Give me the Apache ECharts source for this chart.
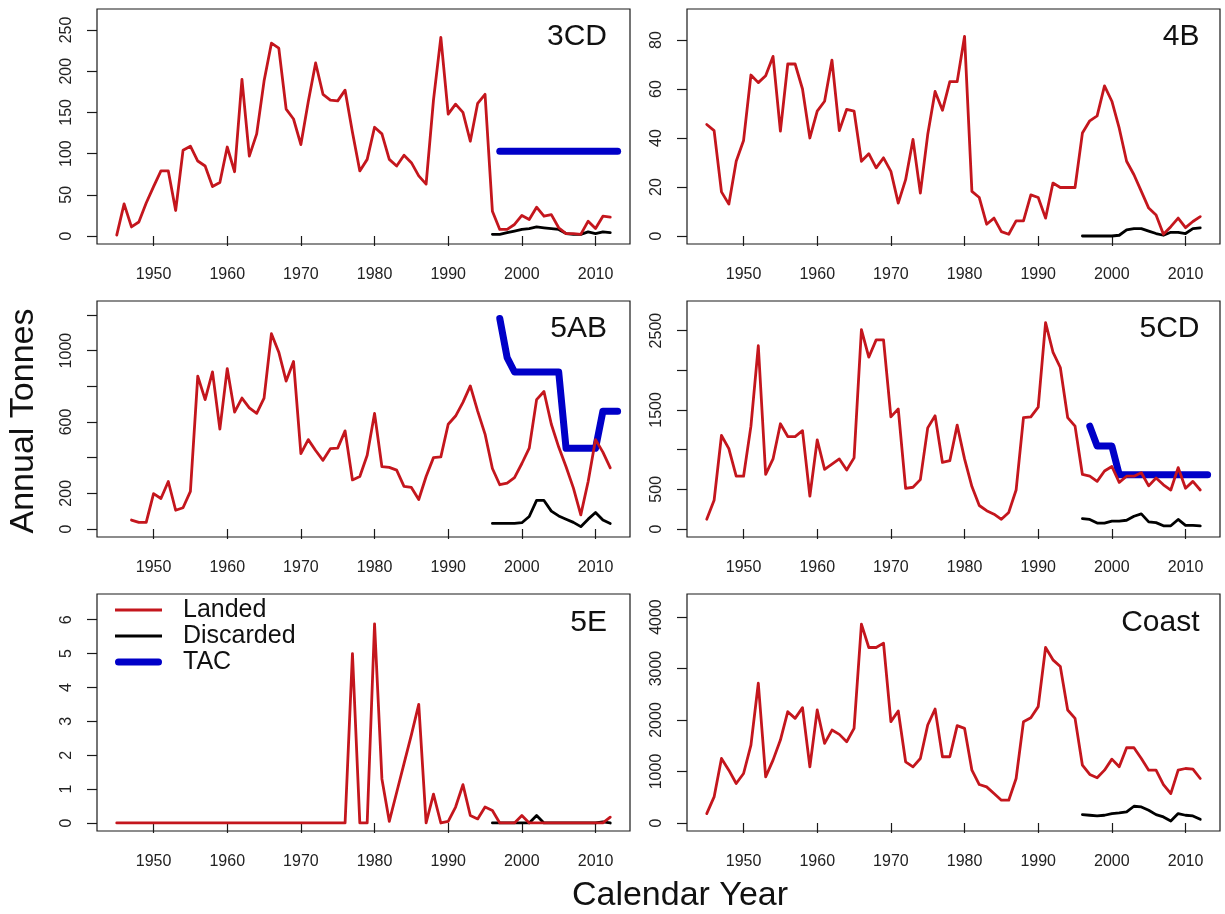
<!DOCTYPE html>
<html><head><meta charset="utf-8">
<script src="https://cdn.jsdelivr.net/npm/echarts@6/dist/echarts.min.js"></script>
<style>html,body{margin:0;padding:0;background:#fff}#c{width:1225px;height:914px}</style>
</head><body><div id="c"></div>
<script>
// ---------- DATA ----------
const yearsLanded = [1945,1946,1947,1948,1949,1950,1951,1952,1953,1954,1955,1956,1957,1958,1959,1960,1961,1962,1963,1964,1965,1966,1967,1968,1969,1970,1971,1972,1973,1974,1975,1976,1977,1978,1979,1980,1981,1982,1983,1984,1985,1986,1987,1988,1989,1990,1991,1992,1993,1994,1995,1996,1997,1998,1999,2000,2001,2002,2003,2004,2005,2006,2007,2008,2009,2010,2011,2012];
const yearsDiscard = [1996,1997,1998,1999,2000,2001,2002,2003,2004,2005,2006,2007,2008,2009,2010,2011,2012];
const yearsTAC = [1997,1998,1999,2000,2001,2002,2003,2004,2005,2006,2007,2008,2009,2010,2011,2012,2013];
const xTickYears = [1950,1960,1970,1980,1990,2000,2010];

const landed3CD = [1,39,11,17,40,60,79,79,31,104, 109,91,85,60,65,108,78,190,97,124, 188,234,228,154,142,111,163,210,172,165, 164,177,126,79,93,132,124,93,85,98, 89,73,63,165,241,148,160,150,115,161, 172,30,8,8,14,25,20,35,24,26, 10,3,3,2,18,9,24,23];
const discard3CD = [2,2,4,6,8,9,11,10,9,8,3,2,2,5,3,5,4];
const tac3CD = [103,103,103,103,103,103,103,103,103,103,103,103,103,103,103,103,103];

const landed4B = [45.5,43,18,13,30.5,39,65.7,62.6,65.4,73.3, 42.8,70.2,70.2,60,40,51,55,71.8,43,51.7, 51,30.5,33.6,27.8,31.9,26.4,13.4,23,39.4,17.5, 41.4,59,51.3,63,63,81.5,18.2,15.7,4.8,7.3, 1.8,0.7,6.2,6.2,16.8,15.7,7.3,21.6,19.8,19.8, 19.8,42,47,49,61.3,55,44,30.5,25,18.2, 11.4,8.6,0.7,3.8,7.3,3.4,5.9,7.9];
const discard4B = [0,0,0,0,0,0.3,2.5,3,3,2,1,0.3,1.5,1.5,1,3,3.3];

const landed5AB = [null,null,50,37,37,198,171,266,105,119, 211,857,725,881,560,899,655,734,679,648, 734,1095,991,829,939,422,501,440,385,450, 453,550,275,294,413,648,349,345,330,239, 233,165,294,400,404,587,633,710,802,661, 532,339,248,257,288,367,453,725,771,587, 459,349,229,79,266,501,431,343];
const discard5AB = [31,31,31,31,35,70,160,160,100,73,55,37,13,55,92,50,31];
const tac5AB = [1180,960,880,880,880,880,880,880,880,452,452,452,452,452,660,660,660];

const landed5CD = [122,361,1178,1013,665,665,1296,2309,687,883, 1326,1165,1165,1239,413,1122,752,817,883,743, 896,2513,2165,2383,2383,1413,1513,513,526,622, 1274,1426,839,861,1309,883,535,296,230,187, 122,209,491,1404,1413,1535,2600,2230,2035,1404, 1296,687,665,600,730,787,587,665,665,709, 543,643,557,491,774,513,600,491];
const discard5CD = [130,120,75,75,100,100,110,160,190,90,80,40,40,120,45,45,40];
const tac5CD = [1295,1045,1045,1045,685,685,685,685,685,685,685,685,685,685,685,685,685];

const landed5E = [0,0,0,0,0,0,0,0,0,0, 0,0,0,0,0,0,0,0,0,0, 0,0,0,0,0,0,0,0,0,0, 0,0,5.0,0,0,5.88,1.3,0.05,0.9,1.75, 2.6,3.5,0,0.85,0,0.05,0.47,1.13,0.22,0.12, 0.47,0.37,0,0,0,0.22,0,0,0,0, 0,0,0,0,0,0,0,0.17];
const discard5E = [0,0,0,0,0,0,0.22,0,0,0,0,0,0,0,0,0.03,0];

const landedCoast = [182,506,1253,1026,766,961,1513,2714,896,1221, 1610,2162,2032,2240,1091,2195,1545,1805,1721,1578, 1838,3864,3409,3409,3494,1968,2175,1188,1091,1253, 1903,2214,1286,1286,1890,1838,1026,747,701,571, 442,442,864,1968,2045,2260,3409,3169,3039,2195, 2032,1123,942,877,1026,1240,1091,1461,1461,1253, 1026,1026,747,571,1026,1058,1045,864];
const discardCoast = [162,150,136,150,182,195,214,325,312,247,162,117,39,182,150,136,71];

const yTicks3CD = [0,50,100,150,200,250];      const yLabels3CD = [0,50,100,150,200,250];
const yTicks4B = [0,20,40,60,80];              const yLabels4B = [0,20,40,60,80];
const yTicks5AB = [0,200,400,600,800,1000,1200]; const yLabels5AB = [0,200,600,1000];
const yTicks5CD = [0,500,1000,1500,2000,2500]; const yLabels5CD = [0,500,1500,2500];
const yTicks5E = [0,1,2,3,4,5,6];              const yLabels5E = [0,1,2,3,4,5,6];
const yTicksCoast = [0,1000,2000,3000,4000];   const yLabelsCoast = [0,1000,2000,3000,4000];

const panelNames = ['3CD','4B','5AB','5CD','5E','Coast'];
const seriesNames = ['Landed','Discarded','TAC'];
const axisTitles = {x:'Calendar Year', y:'Annual Tonnes'};

// ---------- LAYOUT / STYLE ----------
const FONT = "'Liberation Sans', Arial, Helvetica, sans-serif";
const COL_LEFT = [97, 687];
const ROW_TOP = [9, 301, 594];
const ROW_H = [235, 236, 237];
const GRID_W = 533;
const X_MIN = 1942.32, X_MAX = 2014.68;
const RED = '#c4161d', BLACK = '#000000', BLUE = '#0000c8';
const plain = v => String(v);
// legend icons: thin horizontal bars inside a 47x20 box (degenerate corner points keep the box)
const ICON_THIN = 'path://M0,0L0.01,0Z M0,8.6L47,8.6L47,11.4L0,11.4Z M0,20L0.01,20Z';
const ICON_THICK = 'path://M0,0L0.01,0Z M3.5,6.5L43.5,6.5A3.5,3.5 0 0 1 43.5,13.5L3.5,13.5A3.5,3.5 0 0 1 3.5,6.5Z M0,20L0.01,20Z';

const panels = [
  {name:panelNames[0], landed:landed3CD, discard:discard3CD, tac:tac3CD, ymin:-9.7, ymax:275.5, ticks:yTicks3CD, labels:yLabels3CD},
  {name:panelNames[1], landed:landed4B, discard:discard4B, tac:null, ymin:-3.27, ymax:92.65, ticks:yTicks4B, labels:yLabels4B},
  {name:panelNames[2], landed:landed5AB, discard:discard5AB, tac:tac5AB, ymin:-45, ymax:1278, ticks:yTicks5AB, labels:yLabels5AB},
  {name:panelNames[3], landed:landed5CD, discard:discard5CD, tac:tac5CD, ymin:-101, ymax:2873, ticks:yTicks5CD, labels:yLabels5CD},
  {name:panelNames[4], landed:landed5E, discard:discard5E, tac:null, ymin:-0.237, ymax:6.76, ticks:yTicks5E, labels:yLabels5E},
  {name:panelNames[5], landed:landedCoast, discard:discardCoast, tac:null, ymin:-156, ymax:4448, ticks:yTicksCoast, labels:yLabelsCoast}
];

const pairs = (xs, ys) => xs.map((x, i) => [x, ys[i]]);

const grids = [], xAxes = [], yAxes = [], series = [], titles = [];
panels.forEach((p, i) => {
  const col = i % 2, row = Math.floor(i / 2);
  grids.push({left: COL_LEFT[col], top: ROW_TOP[row], width: GRID_W, height: ROW_H[row],
    show: true, borderColor: '#1a1a1a', borderWidth: 1.2, backgroundColor: '#fff', containLabel: false});
  xAxes.push({type:'value', gridIndex:i, min:X_MIN, max:X_MAX,
    axisLine:{show:false}, splitLine:{show:false},
    axisTick:{show:true, inside:false, length:10, customValues:xTickYears, lineStyle:{color:'#1a1a1a', width:1.2}},
    axisLabel:{show:true, customValues:xTickYears, formatter:plain, margin:23, fontSize:16, color:'#222', fontFamily:FONT}});
  yAxes.push({type:'value', gridIndex:i, min:p.ymin, max:p.ymax,
    axisLine:{show:false}, splitLine:{show:false},
    axisTick:{show:true, inside:false, length:10, customValues:p.ticks, lineStyle:{color:'#1a1a1a', width:1.2}},
    axisLabel:{show:true, customValues:p.labels, formatter:plain, rotate:90, margin:22, fontSize:16, color:'#222', fontFamily:FONT}});
  if (p.tac) series.push({name:seriesNames[2], type:'line', xAxisIndex:i, yAxisIndex:i, data:pairs(yearsTAC, p.tac),
    symbol:'none', silent:true, animation:false, lineStyle:{color:BLUE, width:7, cap:'round', join:'round'}, itemStyle:{color:BLUE}});
  series.push({name:seriesNames[1], type:'line', xAxisIndex:i, yAxisIndex:i, data:pairs(yearsDiscard, p.discard),
    symbol:'none', silent:true, animation:false, lineStyle:{color:BLACK, width:2.8, cap:'round', join:'round'}, itemStyle:{color:BLACK}});
  series.push({name:seriesNames[0], type:'line', xAxisIndex:i, yAxisIndex:i, data:pairs(yearsLanded, p.landed),
    symbol:'none', silent:true, animation:false, connectNulls:false, lineStyle:{color:RED, width:2.8, cap:'round', join:'round'}, itemStyle:{color:RED}});
  const titleCenterY = [36.5, 329, 623][row];
  titles.push({text:p.name, right: col === 0 ? 618 : 25.5, top: titleCenterY - 15, padding:0,
    textStyle:{fontSize:30, fontWeight:'normal', color:'#111', fontFamily:FONT, lineHeight:30}});
});

const chart = echarts.init(document.getElementById('c'), null, {renderer:'canvas'});
chart.setOption({
  animation:false,
  backgroundColor:'#fff',
  title: titles,
  grid: grids, xAxis: xAxes, yAxis: yAxes, series: series,
  legend: {
    show:true, orient:'vertical', left:115, top:597, padding:0, itemGap:0,
    itemWidth:47, itemHeight:20, selectedMode:false, symbolKeepAspect:false,
    itemStyle:{borderWidth:0},
    textStyle:{fontSize:25, color:'#111', fontFamily:FONT, lineHeight:26, padding:[0,0,0,16]},
    data:[
      {name:seriesNames[0], icon:ICON_THIN, itemStyle:{color:RED, borderWidth:0}},
      {name:seriesNames[1], icon:ICON_THIN, itemStyle:{color:BLACK, borderWidth:0}},
      {name:seriesNames[2], icon:ICON_THICK, itemStyle:{color:BLUE, borderWidth:0}}
    ]
  },
  graphic: [
    {type:'text', x:24, y:421, rotation:Math.PI/2, silent:true,
     style:{text:axisTitles.y, font:'34px ' + FONT, fill:'#111', align:'center', verticalAlign:'middle'}},
    {type:'text', x:680, y:896, silent:true,
     style:{text:axisTitles.x, font:'34px ' + FONT, fill:'#111', align:'center', verticalAlign:'middle'}}
  ]
});
</script>
</body></html>
